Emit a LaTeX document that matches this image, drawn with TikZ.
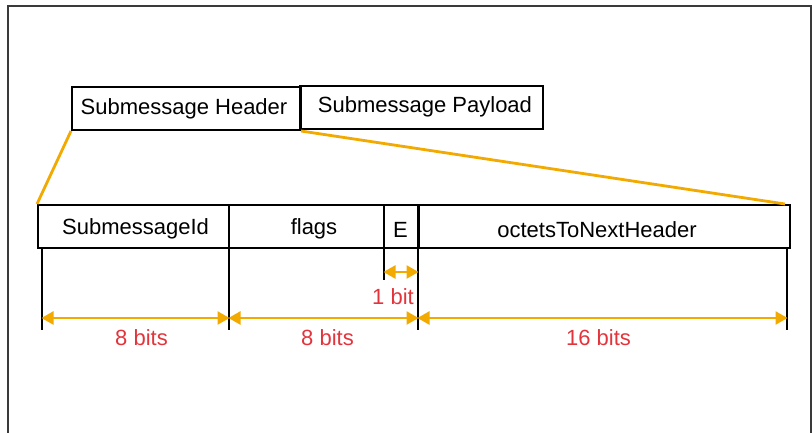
\documentclass[tikz,border=0pt]{standalone}
\usepackage{fontspec}
\setmainfont{Liberation Sans}
\usetikzlibrary{arrows.meta}
\definecolor{framegray}{HTML}{3A3A3A}
\definecolor{amber}{HTML}{F2A900}
\definecolor{labelred}{HTML}{E3343C}
\tikzset{
  box/.style={draw=black, line width=2pt, inner sep=0pt, minimum height=43pt},
  boxtext/.style={anchor=base, inner sep=0pt, text=black, font=\fontsize{22}{25}\selectfont},
  zoomline/.style={amber, line width=2.8pt},
  extline/.style={black, line width=1.4pt},
  dimarrow/.style={amber, line width=2.6pt,
    {Triangle[width=13pt,length=12pt]}-{Triangle[width=13pt,length=12pt]}, shorten <=-0.5pt, shorten >=-0.5pt},
  dimlabel/.style={anchor=base, text=labelred, inner sep=0pt, font=\fontsize{22}{25}\selectfont}
}
\begin{document}
\begin{tikzpicture}[x=1pt,y=-1pt]
\useasboundingbox (0,0) rectangle (812,433);
% outer frame, open at the bottom
\draw[framegray, line width=2pt] (8,433) -- (8,6) -- (811,6) -- (811,433);

% submessage
\node[box, minimum width=228pt] (hdr) at (186,108.5) {};
\node[box, minimum width=243pt] (pay) at (421.5,108) {};
\draw[black, line width=3pt] (300,86) -- (300,130);
\node[boxtext] (hdrt) at (184,114.5) {Submessage Header};
\node[boxtext] (payt) at (425,112.5) {Submessage Payload};

% header fields
\node[box, minimum width=191pt] (fid) at (133.5,226.5) {};
\node[box, minimum width=155pt] (ffl) at (306.5,226.5) {};
\node[box, minimum width=34pt] (fe) at (401,226.5) {};
\node[box, minimum width=372pt] (foct) at (604,226.5) {};
\draw[black, line width=3pt] (418,205) -- (418,248);
\node[boxtext] (fidt) at (135.5,234) {SubmessageId};
\node[boxtext] (fflt) at (314,235) {flags};
\node[boxtext] (fet) at (400.5,237) {E};
\node[boxtext] (foctt) at (597,237) {octetsToNextHeader};

% expansion of the header
\draw[zoomline] (hdr.south west) -- (fid.north west);
\draw[zoomline] (hdr.south east) -- ([xshift=-6pt]foct.north east);

% extension lines
\coordinate (e0t) at (42,248);   \coordinate (e0b) at (42,330);
\coordinate (e1t) at (229,248);  \coordinate (e1b) at (229,330);
\coordinate (e2t) at (418,248);  \coordinate (e2b) at (418,330);
\coordinate (e3t) at (787,248);  \coordinate (e3b) at (787,330);
\coordinate (eet) at (384,248);  \coordinate (eeb) at (384,280);
\foreach \t/\b in {e0t/e0b, e1t/e1b, e2t/e2b, e3t/e3b, eet/eeb}
  \draw[extline] (\t) -- (\b);

% bit widths
\coordinate (a0) at (42,318);
\coordinate (a1) at (229,318);
\coordinate (a2) at (418,318);
\coordinate (a3) at (787,318);
\coordinate (b0) at (384,272);
\coordinate (b1) at (418,272);
\draw[dimarrow] (a0) -- (a1);
\draw[dimarrow] (a1) -- (a2);
\draw[dimarrow] (a2) -- (a3);
\draw[dimarrow] (b0) -- (b1);

\node[dimlabel] (l0) at (141.5,345) {8 bits};
\node[dimlabel] (l1) at (327.5,345) {8 bits};
\node[dimlabel] (l2) at (598.5,345) {16 bits};
\node[dimlabel] (l3) at (393,304) {1 bit};
\end{tikzpicture}
\end{document}
